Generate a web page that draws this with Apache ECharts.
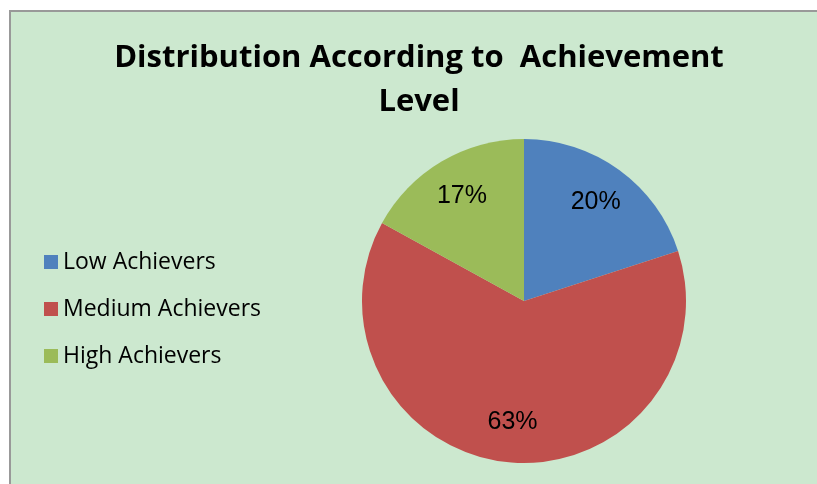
<!DOCTYPE html>
<html>
<head>
<meta charset="utf-8">
<script src="https://cdn.jsdelivr.net/npm/echarts@6/dist/echarts.min.js"></script>
<style>
  html, body { margin: 0; padding: 0; background: #fff; overflow: hidden; }
  #main { width: 817px; height: 484px; }
</style>
</head>
<body>
<div id="main"></div>
<script>
var categories = ['Low Achievers', 'Medium Achievers', 'High Achievers'];
var values = [20, 63, 17];
var colors = ['#4f81bd', '#c0504d', '#9bbb59'];

var pieData = categories.map(function (name, i) {
  return { name: name, value: values[i], itemStyle: { color: colors[i] } };
});

var myChart = echarts.init(document.getElementById('main'));

var option = {
  animation: false,
  backgroundColor: '#fff',
  graphic: [
    // chart area panel: light green, grey edge on top and left
    { type: 'rect', shape: { x: 9, y: 10, width: 808, height: 474 }, style: { fill: '#999' }, silent: true },
    { type: 'rect', shape: { x: 11, y: 12, width: 806, height: 472 }, style: { fill: '#cce8cf' }, silent: true }
  ],
  title: {
    text: 'Distribution According to  Achievement\nLevel',
    left: 414,
    top: 31,
    textAlign: 'center',
    textStyle: {
      fontFamily: 'Open Sans',
      fontWeight: 'bold',
      fontSize: 31,
      lineHeight: 44,
      color: '#000'
    }
  },
  legend: {
    orient: 'vertical',
    left: 39,
    top: 243,
    itemWidth: 14,
    itemHeight: 14,
    itemGap: 19,
    icon: 'rect',
    textStyle: { fontFamily: 'Open Sans', fontSize: 23, lineHeight: 28, color: '#000' },
    data: categories
  },
  series: [
    {
      type: 'pie',
      center: [524, 301],
      radius: 162,
      startAngle: 90,
      clockwise: true,
      label: { show: false },
      labelLine: { show: false },
      itemStyle: { borderWidth: 0 },
      emphasis: { disabled: true },
      data: pieData
    },
    {
      // transparent ring just to place percentage labels
      type: 'pie',
      center: [524, 301],
      radius: [76, 162],
      startAngle: 90,
      clockwise: true,
      silent: true,
      itemStyle: { color: 'transparent', borderWidth: 0 },
      label: {
        show: true,
        position: 'inside',
        formatter: '{d}%',
        fontFamily: 'Liberation Sans',
        fontSize: 25,
        color: '#000'
      },
      labelLine: { show: false },
      emphasis: { disabled: true },
      data: categories.map(function (name, i) { return { name: name, value: values[i] }; })
    }
  ]
};

myChart.setOption(option);
</script>
</body>
</html>
